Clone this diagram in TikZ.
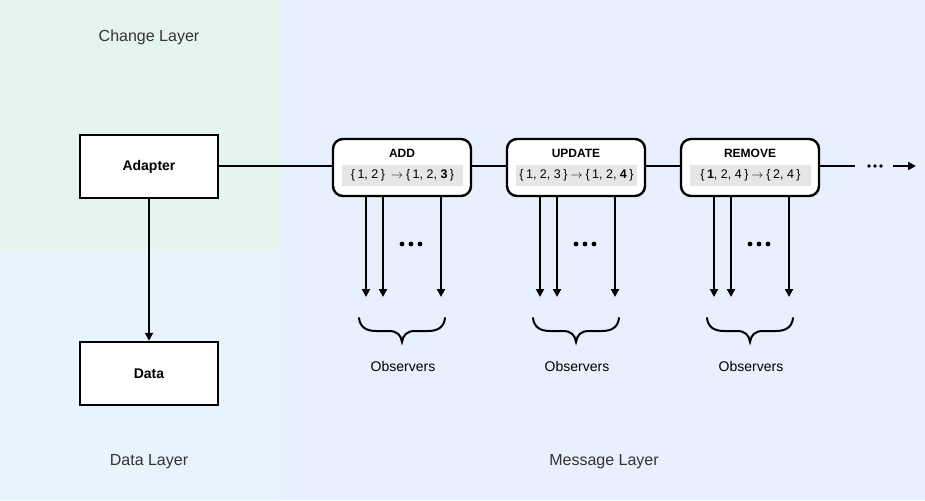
\documentclass[tikz,border=0pt]{standalone}
\usepackage{fontspec}
\setmainfont{Liberation Sans}
\usetikzlibrary{arrows.meta}
\definecolor{chg}{HTML}{E6F4EE}
\definecolor{dat}{HTML}{E7F4FB}
\definecolor{msg}{HTML}{E8F0FD}
\definecolor{setg}{HTML}{E6E6E6}
\definecolor{txt}{HTML}{333333}
\newcommand{\ra}{\kern3pt$\rightarrow$\kern3pt}
\newcommand{\lb}{\{\kern2.5pt}
\newcommand{\rb}{\kern2.5pt\}}
\tikzset{
  sq/.style={draw=black, line width=2.4pt, fill=white, minimum width=138pt, minimum height=63pt, font=\fontsize{14}{16}\selectfont\bfseries, inner sep=0pt},
  evbox/.style={draw=black, line width=2.4pt, fill=white, rounded corners=10pt, minimum width=138pt, minimum height=57pt, inner sep=0pt},
  evtitle/.style={font=\fontsize{12}{14}\selectfont\bfseries, inner sep=0pt},
  evset/.style={fill=setg, minimum width=121pt, minimum height=21pt, inner sep=0pt, font=\fontsize{12.5}{14}\selectfont},
  layer/.style={font=\fontsize{16}{18}\selectfont, text=txt, inner sep=0pt},
  obs/.style={font=\fontsize{14}{16}\selectfont, text=black, inner sep=0pt},
  conn/.style={line width=2.4pt},
  arr/.style={line width=2.4pt, -{Triangle[length=8pt,width=8pt]}},
  brc/.style={line width=2pt, line cap=round},
}
\begin{document}
\begin{tikzpicture}[x=1pt,y=-1pt]
\fill[chg] (0,0) rectangle (282,250);
\fill[dat] (0,250) rectangle (282,500);
\fill[msg] (282,0) rectangle (925,500);
\useasboundingbox (0,0) rectangle (925,500);

\node[layer] (lchg) at (149,37) {Change Layer};
\node[layer] (ldat) at (149,462) {Data Layer};
\node[layer] (lmsg) at (604,462) {Message Layer};

\node[sq] (adapter) at (149,166.5) {Adapter};
\node[sq] (data) at (149,373.5) {Data};
\draw[arr] (adapter.south) -- (data.north);

% event boxes
\foreach \n/\cx/\t/\s in {add/402/ADD/{\lb 1, 2\rb\kern3pt\ra\lb 1, 2, \textbf{3}\rb},
                         upd/576/UPDATE/{\lb 1, 2, 3\rb\ra\lb 1, 2, \textbf{4}\rb},
                         rem/750/REMOVE/{\lb\textbf{1}, 2, 4\rb\ra\lb 2, 4\rb}}{
  \node[evbox] (\n) at (\cx,167.5) {};
  \node[evtitle] (\n t) at (\cx,153) {\t};
  \node[evset] (\n s) at (\cx+0.5,175.5) {\s};
}

\coordinate (ly) at (0,166);
\draw[conn] (adapter.east |- ly) -- (add.west |- ly);
\draw[conn] (add.east |- ly) -- (upd.west |- ly);
\draw[conn] (upd.east |- ly) -- (rem.west |- ly);
\coordinate (lend) at (855,166);
\draw[conn] (rem.east |- lend) -- (lend);
\foreach \dx in {869,875,881} \fill (\dx,166) circle (1.8pt);
\coordinate (astart) at (893,166);
\coordinate (aend) at (916,166);
\draw[arr] (astart) -- (aend);

% observers
\foreach \n/\cx in {add/402,upd/576,rem/750}{
  \foreach \dx in {-36,-19,39}{
    \coordinate (\n o\dx) at (\cx+\dx,297);
    \draw[arr] (\n.south -| \n o\dx) -- (\n o\dx);
  }
  \foreach \dd in {0,9,18} \fill (\cx+\dd,244) circle (2.4pt);
  \coordinate (\n bl) at (\cx-43,318);
  \coordinate (\n br) at (\cx+43,318);
  \coordinate (\n bt) at (\cx,342);
  \draw[brc] (\n bl) .. controls (\cx-42,327) and (\cx-36,331) .. (\cx-26,331)
     -- (\cx-13,331) .. controls (\cx-5,331) and (\cx-1,335) .. (\n bt)
     .. controls (\cx+1,335) and (\cx+5,331) .. (\cx+13,331)
     -- (\cx+26,331) .. controls (\cx+36,331) and (\cx+42,327) .. (\n br);
  \node[obs] (\n obs) at (\cx+1,366) {Observers};
}
\end{tikzpicture}
\end{document}
